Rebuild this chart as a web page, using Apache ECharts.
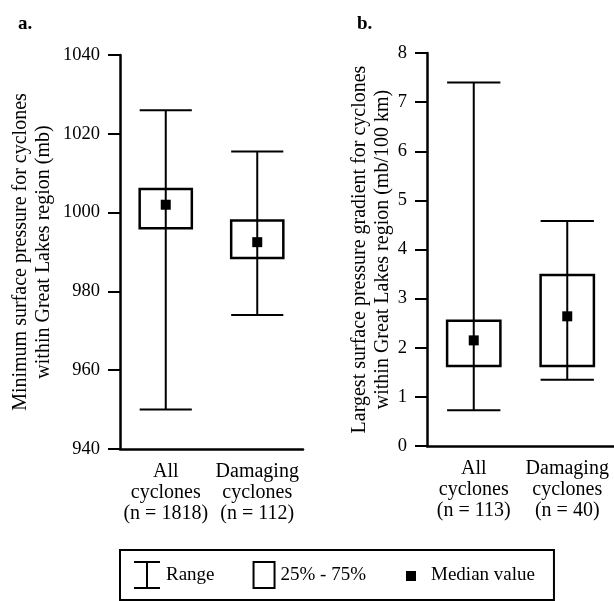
<!DOCTYPE html>
<html>
<head>
<meta charset="utf-8">
<script src="https://cdn.jsdelivr.net/npm/echarts@6/dist/echarts.min.js"></script>
<style>
  html, body { margin: 0; padding: 0; background: #fff; }
  #chart { width: 614px; height: 601px; }
</style>
</head>
<body>
<div id="chart"></div>
<script>
// panel a: minimum surface pressure (mb)
var catsA = ['All\ncyclones\n(n = 1818)', 'Damaging\ncyclones\n(n = 112)'];
var minA = [950, 974];
var q1A = [996, 988.5];
var medA = [1002, 992.5];
var q3A = [1006, 998];
var maxA = [1026, 1015.5];

// panel b: largest surface pressure gradient (mb/100 km)
var catsB = ['All\ncyclones\n(n = 113)', 'Damaging\ncyclones\n(n = 40)'];
var minB = [0.73, 1.35];
var q1B = [1.63, 1.63];
var medB = [2.15, 2.64];
var q3B = [2.55, 3.48];
var maxB = [7.4, 4.58];

var FONT = '"Liberation Serif", "Times New Roman", serif';
var INK = '#000';

var myChart = echarts.init(document.getElementById('chart'), null, { renderer: 'canvas' });

// 须线 + 上下横杠
function rangeItem(params, api) {
	var x = api.value(0);
	var top = api.coord([x, api.value(2)]);
	var bot = api.coord([x, api.value(1)]);
	var half = api.size([1, 0])[0] * 0.285;
	var st = { stroke: INK, lineWidth: 2 };
	return {
		type: 'group',
		children: [
			{ type: 'line', shape: { x1: top[0], y1: top[1], x2: bot[0], y2: bot[1] }, style: st },
			{ type: 'line', shape: { x1: top[0] - half, y1: top[1], x2: top[0] + half, y2: top[1] }, style: st },
			{ type: 'line', shape: { x1: bot[0] - half, y1: bot[1], x2: bot[0] + half, y2: bot[1] }, style: st }
		]
	};
}

// 25%-75% 方框
function boxItem(params, api) {
	var x = api.value(0);
	var lo = api.coord([x, api.value(1)]);
	var hi = api.coord([x, api.value(2)]);
	var half = api.size([1, 0])[0] * 0.285;
	return {
		type: 'rect',
		shape: { x: lo[0] - half, y: hi[1], width: half * 2, height: lo[1] - hi[1] },
		style: { fill: 'none', stroke: INK, lineWidth: 2.5 }
	};
}

function pairs(a, b) {
	return a.map(function(v, i) { return [i, v, b[i]]; });
}
function points(a) {
	return a.map(function(v, i) { return [i, v]; });
}

function xAxisOf(idx, cats) {
	return {
		type: 'category',
		gridIndex: idx,
		data: cats,
		axisLine: { lineStyle: { color: INK, width: 2.5 } },
		axisTick: { show: false },
		axisLabel: {
			color: INK, fontFamily: FONT, fontSize: 20, lineHeight: 21,
			margin: 12, interval: 0
		},
		splitLine: { show: false }
	};
}

function yAxisOf(idx, min, max, interval, name, gap) {
	return {
		type: 'value',
		gridIndex: idx,
		min: min,
		max: max,
		interval: interval,
		name: name,
		nameLocation: 'middle',
		nameRotate: 90,
		nameGap: gap,
		nameTextStyle: { color: INK, fontFamily: FONT, fontSize: 20, lineHeight: 23 },
		axisLine: { show: true, lineStyle: { color: INK, width: 2.5 } },
		axisTick: { show: true, inside: false, length: 12, lineStyle: { color: INK, width: 2 } },
		axisLabel: {
			color: INK, fontFamily: FONT, fontSize: 18.5, margin: 20,
			formatter: function(v) { return String(v); }
		},
		splitLine: { show: false }
	};
}

var option = {
	backgroundColor: '#fff',
	animation: false,
	title: [
		{ text: 'a.', left: 13, top: 10, textStyle: { color: INK, fontFamily: FONT, fontSize: 19, fontWeight: 'bold' } },
		{ text: 'b.', left: 352, top: 10, textStyle: { color: INK, fontFamily: FONT, fontSize: 19, fontWeight: 'bold' } }
	],
	grid: [
		{ left: 120, top: 55, width: 183, height: 394 },
		{ left: 427, top: 53, width: 194, height: 393 }
	],
	xAxis: [xAxisOf(0, catsA), xAxisOf(1, catsB)],
	yAxis: [
		yAxisOf(0, 940, 1040, 20, 'Minimum surface pressure for cyclones\nwithin Great Lakes region (mb)', 65),
		yAxisOf(1, 0, 8, 1, 'Largest surface pressure gradient for cyclones\nwithin Great Lakes region (mb/100 km)', 29)
	],
	legend: {
		left: 120,
		top: 550,
		orient: 'horizontal',
		selectedMode: false,
		itemWidth: 28,
		itemHeight: 28,
		itemGap: 32,
		padding: [10, 19, 10, 12],
		borderColor: INK,
		borderWidth: 2,
		textStyle: { color: INK, fontFamily: FONT, fontSize: 19 },
		data: [
			{ name: 'Range', icon: 'path://M0,0M28,28M1,1H27M14,1V27M1,27H27',
				itemStyle: { color: 'rgba(0,0,0,0)', borderColor: INK, borderWidth: 2 } },
			{ name: '25% - 75%', icon: 'path://M0,0M28,28M6,1H27V27H6Z',
				itemStyle: { color: '#fff', borderColor: INK, borderWidth: 2 } },
			{ name: 'Median value', icon: 'path://M0,0M28,28M8,10H18V20H8Z',
				itemStyle: { color: INK, borderColor: INK, borderWidth: 0 } }
		]
	},
	series: [
		{ name: 'Range', type: 'custom', xAxisIndex: 0, yAxisIndex: 0, renderItem: rangeItem,
			encode: { x: 0, y: [1, 2] }, data: pairs(minA, maxA), z: 2 },
		{ name: '25% - 75%', type: 'custom', xAxisIndex: 0, yAxisIndex: 0, renderItem: boxItem,
			encode: { x: 0, y: [1, 2] }, data: pairs(q1A, q3A), z: 3 },
		{ name: 'Median value', type: 'scatter', xAxisIndex: 0, yAxisIndex: 0, symbol: 'rect',
			symbolSize: 10, itemStyle: { color: INK, opacity: 1 }, data: points(medA), z: 4 },

		{ name: 'Range', type: 'custom', xAxisIndex: 1, yAxisIndex: 1, renderItem: rangeItem,
			encode: { x: 0, y: [1, 2] }, data: pairs(minB, maxB), z: 2 },
		{ name: '25% - 75%', type: 'custom', xAxisIndex: 1, yAxisIndex: 1, renderItem: boxItem,
			encode: { x: 0, y: [1, 2] }, data: pairs(q1B, q3B), z: 3 },
		{ name: 'Median value', type: 'scatter', xAxisIndex: 1, yAxisIndex: 1, symbol: 'rect',
			symbolSize: 10, itemStyle: { color: INK, opacity: 1 }, data: points(medB), z: 4 }
	]
};

myChart.setOption(option);
</script>
</body>
</html>
